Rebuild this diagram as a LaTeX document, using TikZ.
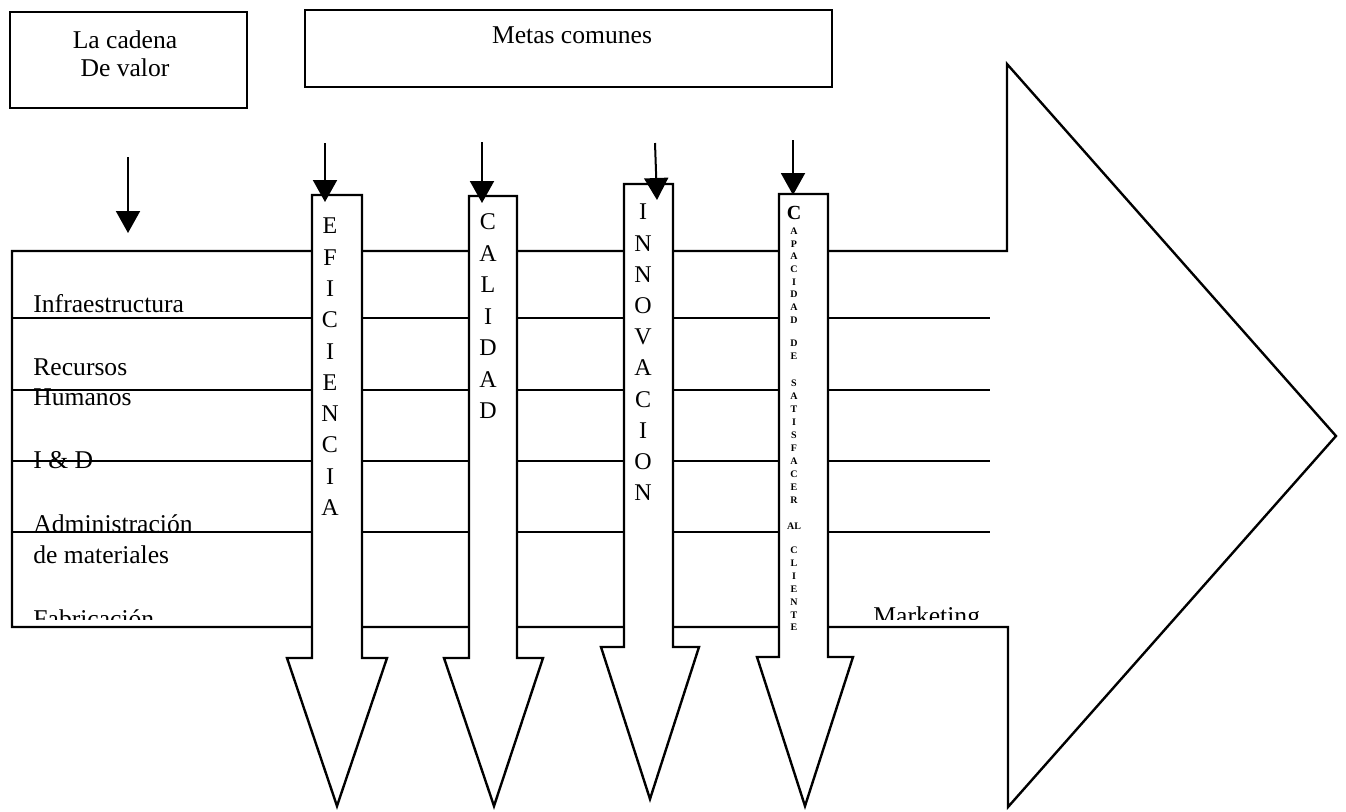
\documentclass[tikz,border=0pt]{standalone}
\usepackage{fontspec}
\setmainfont{Liberation Serif}
\usetikzlibrary{arrows.meta}

\tikzset{
  frame/.style={line width=1.2pt},
  rowline/.style={line width=1pt},
  goalarrow/.style={line width=1.2pt,fill=white,line join=miter},
  feed/.style={line width=1pt,-{Triangle[length=11pt,width=12pt]}},
  lbl/.style={inner sep=0pt,font=\fontsize{12.8}{15}\selectfont},
  colltr/.style={inner sep=0pt,font=\fontsize{12}{14}\selectfont},
  tinyltr/.style={inner sep=0pt,font=\fontsize{5}{6}\selectfont\bfseries},
}

\begin{document}
\begin{tikzpicture}[x=0.5pt,y=-0.5pt]
\useasboundingbox (0,0) rectangle (1346,811);
% --- header boxes ---
\draw[frame] (10,12) rectangle (247,108);
\node[lbl,anchor=base] (cad1) at (125,48) {La cadena};
\node[lbl,anchor=base] (cad2) at (125,76) {De valor};
\draw[frame] (305,10) rectangle (832,87);
\node[lbl,anchor=base] (metas) at (572,43) {Metas comunes};
% --- value chain as big block arrow ---
\draw[frame,line join=miter] (12,251) -- (1007,251) -- (1007,64) -- (1336,436)
  -- (1008,807) -- (1008,627) -- (12,627) -- cycle;
\foreach \y in {318,390,461,532}
  \draw[rowline] (12,\y) -- (990,\y);
% activity labels (bottom row cut by the frame)
\node[lbl,anchor=base west] (infra) at (33,312) {Infraestructura};
\node[lbl,anchor=base west] (rh1) at (33,375) {Recursos};
\node[lbl,anchor=base west] (rh2) at (33,405) {Humanos};
\node[lbl,anchor=base west] (id) at (33,468) {I \& D};
\node[lbl,anchor=base west] (adm1) at (33,532) {Administración};
\node[lbl,anchor=base west] (adm2) at (33,563) {de materiales};
\begin{scope}
  \clip (0,0) rectangle (1346,619);
  \node[lbl,anchor=base west] (fab) at (33,627) {Fabricación};
  \node[lbl,anchor=base west] (mkt) at (873,624) {Marketing};
\end{scope}
% --- common goals as down arrows ---
\foreach \xl/\xr/\yt/\ys/\hl/\hr/\tx/\ty in {312/362/195/658/287/387/337/806,
    469/517/196/658/444/543/494/806, 624/673/184/647/601/699/650/799,
    779/828/194/657/757/853/805/806}
  \draw[goalarrow] (\xl,\yt) -- (\xr,\yt) -- (\xr,\ys) -- (\hr,\ys) -- (\tx,\ty)
    -- (\hl,\ys) -- (\xl,\ys) -- cycle;
\foreach \l [count=\i from 0] in {E,F,I,C,I,E,N,C,I,A}
  \node[colltr] (ef\i) at (330,{226+31.3*\i}) {\l};
\foreach \l [count=\i from 0] in {C,A,L,I,D,A,D}
  \node[colltr] (cal\i) at (488,{222+31.5*\i}) {\l};
\foreach \l [count=\i from 0] in {I,N,N,O,V,A,C,I,O,N}
  \node[colltr] (inn\i) at (643,{212+31.2*\i}) {\l};
\node[inner sep=0pt,font=\fontsize{10}{12}\selectfont\bfseries] (cap0) at (794,213) {C};
\foreach \l/\y [count=\i] in {A/231,P/244,A/256,C/269,I/282,D/294,A/307,D/320,
    D/343,E/356,S/383,A/396,T/409,I/422,S/435,F/448,A/461,C/474,E/487,R/500,
    AL/526,C/550,L/563,I/576,E/589,N/602,T/615,E/627}
  \node[tinyltr] (cap\i) at (794,\y) {\l};
% --- feeding arrows ---
\coordinate (v0) at (128,157); \coordinate (v1) at (128,233);
\draw[feed] (v0) -- (v1);
\foreach \xs/\xe/\ys/\ye [count=\i] in {325/325/143/202,482/482/142/203,
    655/657/143/200,793/793/140/195}{
  \coordinate (g\i) at (\xs,\ys); \coordinate (t\i) at (\xe,\ye);
  \draw[feed] (g\i) -- (t\i);}
\end{tikzpicture}
\end{document}
